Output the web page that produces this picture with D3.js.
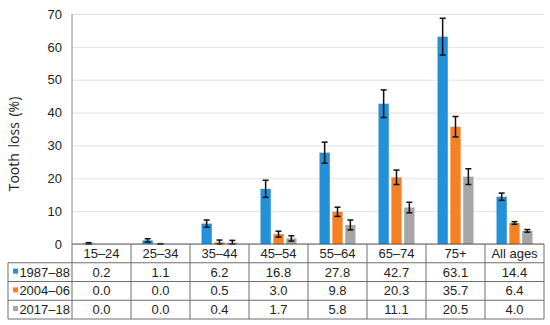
<!DOCTYPE html>
<html>
<head>
<meta charset="utf-8">
<script src="https://cdn.jsdelivr.net/npm/d3@7"></script>
<style>
  body { margin: 0; background: #fff; }
  text { font-family: "Liberation Sans", Arial, sans-serif; fill: #222; }
</style>
</head>
<body>
<div id="chart"></div>
<script>
// data
const categories = ['15–24', '25–34', '35–44', '45–54', '55–64', '65–74', '75+', 'All ages']
const seriesNames = ['1987–88', '2004–06', '2017–18']
const values1987 = [0.2, 1.1, 6.2, 16.8, 27.8, 42.7, 63.1, 14.4]
const values2004 = [0.0, 0.0, 0.5, 3.0, 9.8, 20.3, 35.7, 6.4]
const values2017 = [0.0, 0.0, 0.4, 1.7, 5.8, 11.1, 20.5, 4.0]
// half width of the error bars (estimated)
const err1987 = [0.2, 0.5, 1.1, 2.6, 3.2, 4.2, 5.6, 1.1]
const err2004 = [0, 0.1, 0.7, 0.9, 1.4, 2.2, 3.1, 0.4]
const err2017 = [0, 0, 0.7, 0.8, 1.5, 1.6, 2.4, 0.4]
const yTicks = [0, 10, 20, 30, 40, 50, 60, 70]
const yTitle = 'Tooth loss (%)'

const colors = ['#2490d8', '#f58025', '#a6a6a6']
const allValues = [values1987, values2004, values2017]
const allErrors = [err1987, err2004, err2017]

const dms = { width: 550, height: 325, left: 72, right: 544, top: 14, bottom: 244, tableLeft: 8, tableBottom: 319 }

const svg = d3.select('#chart').append('svg')
  .attr('width', dms.width)
  .attr('height', dms.height)

const x = d3.scaleBand().domain(categories).range([dms.left, dms.right]).padding(0)
const xInner = d3.scaleBand().domain(seriesNames)
  .range([x.bandwidth() * 0.195, x.bandwidth() * 0.805]).paddingInner(0.2)
const y = d3.scaleLinear().domain([0, 70]).range([dms.bottom, dms.top])

// grid + y axis
const yAxis = svg.append('g')
  .attr('transform', `translate(${dms.left},0)`)
  .call(d3.axisLeft(y).tickValues(yTicks).tickSize(-(dms.right - dms.left)).tickPadding(10))
yAxis.select('.domain').remove()
yAxis.selectAll('.tick line').attr('stroke', '#e3e3e3')
yAxis.selectAll('.tick text')
  .style('font-size', '13px')
  .style('font-family', '"Liberation Sans", Arial, sans-serif')
  .attr('fill', '#222')

svg.append('line')
  .attr('x1', dms.left).attr('x2', dms.left)
  .attr('y1', dms.top).attr('y2', dms.bottom)
  .attr('stroke', '#888')

svg.append('text')
  .attr('transform', `translate(19, ${(dms.top + dms.bottom) / 2 + 15}) rotate(-90)`)
  .attr('text-anchor', 'middle')
  .style('font-family', '"Open Sans", sans-serif')
  .style('font-size', '14px')
  .style('word-spacing', '2px')
  .attr('fill', '#333')
  .text(yTitle)

// bars
const rows = []
seriesNames.forEach((s, si) => {
  categories.forEach((c, ci) => {
    rows.push({ series: s, si, cat: c, value: allValues[si][ci], err: allErrors[si][ci] })
  })
})

svg.append('g').selectAll('rect')
  .data(rows)
  .join('rect')
  .attr('x', d => x(d.cat) + xInner(d.series))
  .attr('y', d => y(d.value))
  .attr('width', xInner.bandwidth())
  .attr('height', d => y(0) - y(d.value))
  .attr('fill', d => colors[d.si])

// error bars
const errG = svg.append('g').attr('stroke', '#111').attr('stroke-width', 1.5)
rows.filter(d => d.err > 0).forEach(d => {
  const cx = x(d.cat) + xInner(d.series) + xInner.bandwidth() / 2
  const lo = y(Math.max(0, d.value - d.err))
  const hi = y(d.value + d.err)
  errG.append('line').attr('x1', cx).attr('x2', cx).attr('y1', lo).attr('y2', hi)
  errG.append('line').attr('x1', cx - 3).attr('x2', cx + 3).attr('y1', lo).attr('y2', lo)
  errG.append('line').attr('x1', cx - 3).attr('x2', cx + 3).attr('y1', hi).attr('y2', hi)
})

// data table under the chart
const rowScale = d3.scaleBand().domain(['header', ...seriesNames]).range([dms.bottom, dms.tableBottom])
const table = svg.append('g')
const lineColor = '#6e6e6e'

// horizontal lines
rowScale.domain().forEach((r, i) => {
  if (i === 0) return
  table.append('line')
    .attr('x1', dms.tableLeft).attr('x2', dms.right)
    .attr('y1', rowScale(r)).attr('y2', rowScale(r))
    .attr('stroke', lineColor)
})
table.append('line')
  .attr('x1', dms.tableLeft).attr('x2', dms.right)
  .attr('y1', dms.tableBottom).attr('y2', dms.tableBottom)
  .attr('stroke', lineColor)
// axis baseline
table.append('line')
  .attr('x1', dms.left).attr('x2', dms.right)
  .attr('y1', dms.bottom).attr('y2', dms.bottom)
  .attr('stroke', '#555')

// vertical lines
categories.forEach(c => {
  table.append('line')
    .attr('x1', x(c)).attr('x2', x(c))
    .attr('y1', dms.bottom).attr('y2', dms.tableBottom)
    .attr('stroke', lineColor)
})
table.append('line')
  .attr('x1', dms.right).attr('x2', dms.right)
  .attr('y1', dms.bottom).attr('y2', dms.tableBottom)
  .attr('stroke', lineColor)
table.append('line')
  .attr('x1', dms.tableLeft).attr('x2', dms.tableLeft)
  .attr('y1', rowScale(seriesNames[0])).attr('y2', dms.tableBottom)
  .attr('stroke', lineColor)

// header labels
table.selectAll('.cat-label')
  .data(categories)
  .join('text')
  .attr('class', 'cat-label')
  .attr('x', d => x(d) + x.bandwidth() / 2)
  .attr('y', rowScale('header') + rowScale.bandwidth() / 2 + 4.5)
  .attr('text-anchor', 'middle')
  .style('font-size', '13px')
  .text(d => d)

// legend cells + values
seriesNames.forEach((s, si) => {
  const ry = rowScale(s) + rowScale.bandwidth() / 2
  table.append('rect')
    .attr('x', 13).attr('y', ry - 3.5)
    .attr('width', 5).attr('height', 5)
    .attr('fill', colors[si])
  table.append('text')
    .attr('x', 70).attr('y', ry + 4.5)
    .attr('text-anchor', 'end')
    .style('font-size', '13px')
    .text(s)
  table.selectAll(`.val-${si}`)
    .data(allValues[si])
    .join('text')
    .attr('x', (d, i) => x(categories[i]) + x.bandwidth() / 2)
    .attr('y', ry + 4.5)
    .attr('text-anchor', 'middle')
    .style('font-size', '13px')
    .text(d => d.toFixed(1))
})
</script>
</body>
</html>
